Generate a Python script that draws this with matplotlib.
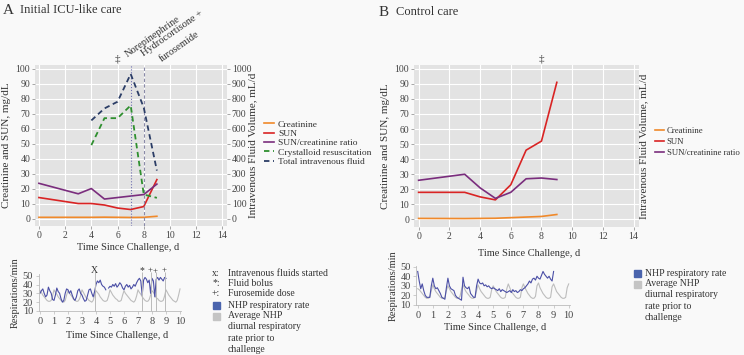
import numpy as np
import matplotlib
matplotlib.use("Agg")
import matplotlib.pyplot as plt
from matplotlib.lines import Line2D
from matplotlib.patches import Rectangle

plt.rcParams['font.family'] = ['Liberation Serif', 'DejaVu Serif']

# ---- panel A, lab values (days since challenge) ----
a_days = [0, 3, 4, 5, 6, 7, 8, 9]
a_creat = [0.8, 0.8, 0.8, 0.9, 0.8, 0.7, 0.8, 1.5]
a_sun = [14, 10, 10, 9, 7, 6, 8, 26]
a_ratio = [23.5, 16.5, 20, 13, 14, 15, 16, 23]
a_fluid_days = [4, 5, 6, 7, 8, 9]
a_crystalloid = [490, 670, 670, 755, 160, 138]
a_total_iv = [655, 735, 780, 965, 740, 320]

# ---- panel B, lab values ----
b_days = [0, 3, 4, 5, 6, 7, 8, 9]
b_creat = [0.7, 0.6, 0.7, 0.8, 1.2, 1.6, 2.0, 3.3]
b_sun = [18, 18, 15, 13, 23, 46, 52, 91]
b_ratio = [26, 30, 21, 14, 18, 27, 27.5, 26.5]

# ---- respiratory rate, sampled every 0.1 d ----
resp_a = [30, 33, 35, 30, 26, 28, 37, 33, 30, 23,
          22, 28, 36, 32, 30, 24, 20, 22, 30, 35,
          34, 30, 33, 28, 24, 22, 26, 33, 35, 30,
          28, 24, 21, 22, 28, 34, 35, 30, 26, 32,
          40, 44, 42, 45, 40, 38, 37, 34, np.nan, 36,
          38, 37, 40, 38, 41, 37, 39, 42, 40, 36,
          34, 38, 40, 37, 39, 35, 37, 40, 38, 42,
          45, 47, 44, 28, 45, 48, 46, 42, 45, 30,
          47, 44, 26, 46, 48, 45, 48, 46, 44, 48, 47]
avg_a = [33, 31, 28, 26, 24, 22, 21, 21, 22, 27,
         34, 31, 29, 26, 24, 22, 21, 20, 22, 28,
         33, 30, 28, 26, 23, 22, 21, 21, 23, 27,
         34, 31, 28, 25, 24, 22, 21, 20, 22, 28,
         33, 31, 29, 26, 24, 22, 21, 21, 22, 27,
         34, 31, 28, 26, 24, 23, 21, 21, 22, 28,
         33, 30, 28, 26, 24, 22, 21, 20, 22, 27,
         34, 31, 29, 26, 24, 22, 21, 21, 23, 28,
         33, 31, 28, 25, 24, 22, 21, 21, 22, 27,
         34, 31, 28, 26, 24, 22, 21, 20, 22, 28, 35]
resp_b = [45, 35, 27, 32, 25, 20, 18, 18, 18, 30,
          38, 30, 27, 28, 25, 22, 18, 17, 16, 28,
          38, 30, 27, 26, 25, 20, 18, 17, 16, 15,
          39, 30, 28, 27, 29, 22, 20, 18, 18, 30,
          37, 33, 32, 33, 30, 31, 29, 30, 28, 27,
          28, 27, 26, 25, 27, 24, 26, 25, 24, 23,
          24, 25, 23, 26, 24, 25, 23, 24, 26, 25,
          27, 28, 30, 32, 35, 33, 37, 38, 36, 40,
          38, 37, 41, 45, 42, 40, 38, 40, 37, 35, 45]
avg_b = [27, 26, 24, 22, 20, 18, 17, 17, 18, 25,
         31, 27, 24, 22, 20, 18, 17, 17, 18, 25,
         30, 27, 24, 22, 20, 18, 17, 17, 19, 26,
         31, 27, 24, 22, 20, 18, 17, 17, 18, 25,
         31, 27, 24, 22, 20, 18, 17, 17, 18, 26,
         30, 27, 24, 22, 20, 18, 17, 17, 18, 27,
         32, 28, 24, 22, 20, 18, 17, 17, 18, 28,
         32, 28, 25, 22, 20, 18, 17, 17, 19, 30,
         33, 28, 25, 22, 20, 18, 17, 17, 18, 29,
         32, 28, 24, 22, 20, 18, 17, 17, 18, 28, 32]
resp_days = np.round(np.arange(0, 9.05, 0.1), 1)
avg_days = np.round(np.arange(0, 10.05, 0.1), 1)

# events on panel A resp plot
event_days = [3.9, 7.25, 7.9, 8.25, 8.9]
event_marks = ['X', '*', '+', '+', '+']
event_y = [56, 56, 56.5, 54.5, 56]

W, H = 744, 355
def fx(x): return x / W
def fy(y): return 1 - y / H

TXT = '#333333'
GRID_BG = '#e3e3e3'
C_CREAT = '#f0892a'
C_SUN = '#d92424'
C_RATIO = '#7a2d7d'
C_CRYS = '#2f8f2f'
C_TOT = '#2b3d66'
C_RESP = '#4b4fa6'
C_AVG = '#bdbdbd'

fig = plt.figure(figsize=(7.44, 3.55), dpi=100, facecolor='#f9f9f9')


def style_main(ax):
    ax.set_facecolor(GRID_BG)
    for s in ax.spines.values():
        s.set_visible(False)
    ax.set_xlim(-0.3, 14.35)
    ax.set_ylim(-5, 102.5)
    ax.set_xticks(range(0, 15, 2))
    ax.set_yticks(range(0, 101, 10))
    ax.grid(True, color='white', lw=0.8)
    ax.set_axisbelow(True)
    ax.tick_params(length=2, width=0.6, color='#999999', labelsize=7,
                   labelcolor='#444444', pad=1.5)


def style_resp(ax, top):
    ax.set_facecolor('none')
    ax.spines['top'].set_visible(False)
    ax.spines['right'].set_visible(False)
    for s in ('left', 'bottom'):
        ax.spines[s].set_color('#bbbbbb')
        ax.spines[s].set_linewidth(0.6)
    ax.set_xlim(-0.1, 10.1)
    ax.set_ylim(10, top)
    ax.set_xticks(range(0, 11))
    ax.set_yticks(range(10, 51, 10))
    ax.tick_params(length=2, width=0.5, color='#bbbbbb', labelsize=7.5,
                   labelcolor='#444444', pad=2)


# ================= Panel A main =================
axA = fig.add_axes([fx(35), fy(226), 192 / W, 161 / H])
style_main(axA)
axA.plot(a_days, a_creat, color=C_CREAT, lw=1.2)
axA.plot(a_days, a_sun, color=C_SUN, lw=1.2)
axA.plot(a_days, a_ratio, color=C_RATIO, lw=1.2)
axA.axvline(7, color='#6f6fb0', lw=0.8, ls=':')
axA.axvline(8, color='#8a8aa8', lw=0.8, ls=(0, (3, 2)))
axA.set_ylabel('Creatinine and SUN, mg/dL', fontsize=8, color=TXT, labelpad=3)

axA2 = axA.twinx()
axA2.set_ylim(-50, 1025)
axA2.set_yticks(range(0, 1001, 100))
for s in axA2.spines.values():
    s.set_visible(False)
axA2.tick_params(length=2, width=0.6, color='#999999', labelsize=7,
                 labelcolor='#444444', pad=1.5)
axA2.plot(a_fluid_days, a_crystalloid, color=C_CRYS, lw=1.3, ls=(0, (3, 2)))
axA2.plot(a_fluid_days, a_total_iv, color=C_TOT, lw=1.3, ls=(0, (3, 2)))
fig.text(fx(253), fy(145), 'Intravenous Fluid Volume, mL/d', rotation=90, fontsize=8,
         color=TXT, ha='center', va='center')

axA.text(6, 106.5, '\u2021', ha='center', va='center', fontsize=8, color=TXT, clip_on=False)
fig.text(fx(128), fy(57), 'Norepinephrine', rotation=35, rotation_mode='anchor',
         ha='left', va='baseline', fontsize=7.5, color=TXT)
fig.text(fx(144), fy(56), 'Hydrocortisone +', rotation=35, rotation_mode='anchor',
         ha='left', va='baseline', fontsize=7.5, color=TXT)
fig.text(fx(162), fy(62), 'furosemide', rotation=35, rotation_mode='anchor',
         ha='left', va='baseline', fontsize=7.5, color=TXT)

fig.text(fx(3), fy(10), 'A', fontsize=11, color=TXT, va='center', ha='left')
fig.text(fx(20), fy(10), 'Initial ICU-like care', fontsize=9, color=TXT, va='center', ha='left')
fig.text(fx(128), fy(247), 'Time Since Challenge, d', fontsize=7.5, color=TXT, ha='center', va='center')

hA = [Line2D([], [], color=C_CREAT, lw=1.2),
      Line2D([], [], color=C_SUN, lw=1.2),
      Line2D([], [], color=C_RATIO, lw=1.2),
      Line2D([], [], color=C_CRYS, lw=1.3, ls=(0, (3, 2))),
      Line2D([], [], color=C_TOT, lw=1.3, ls=(0, (3, 2)))]
fig.legend(hA, ['Creatinine', 'SUN', 'SUN/creatinine ratio', 'Crystalloid resuscitation',
                'Total intravenous fluid'],
           loc='center left', bbox_to_anchor=(fx(259), fy(143)), frameon=False,
           fontsize=6.8, handlelength=1.1, handletextpad=0.4, labelspacing=0.08,
           borderpad=0, labelcolor=TXT)

# ================= Panel B main =================
axB = fig.add_axes([fx(414), fy(227), 225 / W, 162 / H])
style_main(axB)
axB.plot(b_days, b_creat, color=C_CREAT, lw=1.2)
axB.plot(b_days, b_sun, color=C_SUN, lw=1.2)
axB.plot(b_days, b_ratio, color=C_RATIO, lw=1.2)
axB.set_ylabel('Creatinine and SUN, mg/dL', fontsize=8, color=TXT, labelpad=3)
axB.text(8, 106.5, '\u2021', ha='center', va='center', fontsize=8, color=TXT, clip_on=False)
fig.text(fx(644), fy(146), 'Intravenous Fluid Volume, mL/d', rotation=90, fontsize=8,
         color=TXT, ha='center', va='center')

fig.text(fx(379), fy(12), 'B', fontsize=11, color=TXT, va='center', ha='left')
fig.text(fx(396), fy(12), 'Control care', fontsize=9, color=TXT, va='center', ha='left')
fig.text(fx(529), fy(253), 'Time Since Challenge, d', fontsize=7.5, color=TXT, ha='center', va='center')

hB = hA[:3]
fig.legend(hB, ['Creatinine', 'SUN', 'SUN/creatinine ratio'],
           loc='center left', bbox_to_anchor=(fx(651), fy(142)), frameon=False,
           fontsize=6.3, handlelength=1.0, handletextpad=0.3, labelspacing=0.35,
           borderpad=0, labelcolor=TXT)

# ================= Panel A respiratory =================
raA = fig.add_axes([fx(38.6), fy(311), 142.8 / W, 37.1 / H])
style_resp(raA, 52)
raA.plot(avg_days, avg_a, color=C_AVG, lw=0.8)
raA.plot(resp_days, resp_a, color=C_RESP, lw=0.8)
raA.vlines(event_days, 10, 54, color='#bbbbbb', lw=0.7, clip_on=False)
for d, m, yy in zip(event_days, event_marks, event_y):
    raA.text(d, yy, m, ha='center', va='center', fontsize=6.5 if m == '+' else 7,
             color=TXT, clip_on=False)
raA.set_ylabel('Respirations/min', fontsize=7.5, color=TXT, labelpad=2)
fig.text(fx(117), fy(335), 'Time Since Challenge, d', fontsize=7.5, color=TXT, ha='center', va='center')

# legend for panel A resp (drawn by hand)
leg_txt = [('x:', 'Intravenous fluids started', 273),
           ('*:', 'Fluid bolus', 283.5),
           ('+:', 'Furosemide dose', 294)]
for sym, lab, yy in leg_txt:
    fig.text(fx(216), fy(yy), sym, fontsize=7, color=TXT, ha='center', va='center')
    fig.text(fx(228), fy(yy), lab, fontsize=7, color=TXT, ha='left', va='center')
fig.patches.append(Rectangle((fx(213), fy(309)), 7 / W, 7 / H, transform=fig.transFigure,
                             color='#4a64ad', figure=fig))
fig.text(fx(228), fy(305), 'NHP respiratory rate', fontsize=7, color=TXT, ha='left', va='center')
fig.patches.append(Rectangle((fx(213), fy(320)), 7 / W, 7 / H, transform=fig.transFigure,
                             color='#c4c4c4', figure=fig))
fig.text(fx(228), fy(311), 'Average NHP\ndiurnal respiratory\nrate prior to\nchallenge', fontsize=7,
         color=TXT, ha='left', va='top', linespacing=1.35)

# ================= Panel B respiratory =================
raB = fig.add_axes([fx(416.2), fy(305), 154 / W, 39.3 / H])
style_resp(raB, 51)
raB.plot(avg_days, avg_b, color=C_AVG, lw=0.8)
raB.plot(resp_days, resp_b, color=C_RESP, lw=0.8)
raB.set_ylabel('Respirations/min', fontsize=7.5, color=TXT, labelpad=2)
fig.text(fx(495), fy(327), 'Time Since Challenge, d', fontsize=7.5, color=TXT, ha='center', va='center')

fig.patches.append(Rectangle((fx(634), fy(277)), 7 / W, 7 / H, transform=fig.transFigure,
                             color='#4a64ad', figure=fig))
fig.text(fx(645), fy(273), 'NHP respiratory rate', fontsize=7, color=TXT, ha='left', va='center')
fig.patches.append(Rectangle((fx(634), fy(288)), 7 / W, 7 / H, transform=fig.transFigure,
                             color='#c4c4c4', figure=fig))
fig.text(fx(645), fy(279), 'Average NHP\ndiurnal respiratory\nrate prior to\nchallenge', fontsize=7,
         color=TXT, ha='left', va='top', linespacing=1.35)

fig.savefig('out.png', dpi=100, facecolor=fig.get_facecolor())
